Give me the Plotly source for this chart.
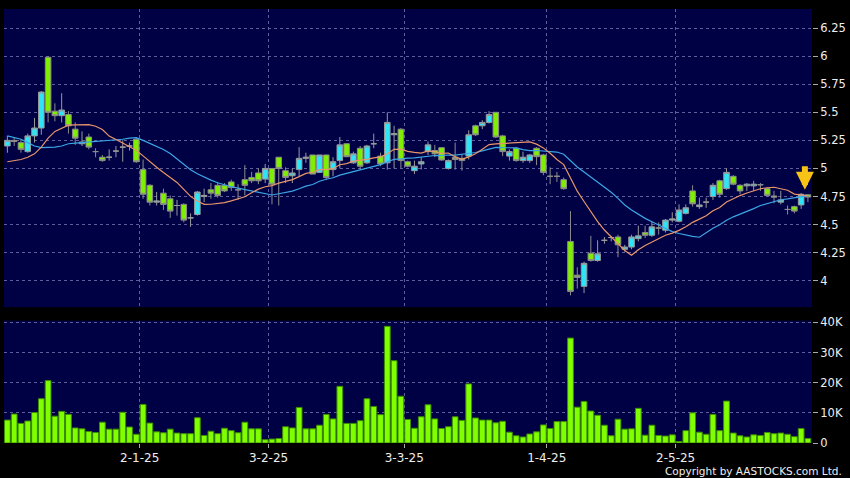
import pandas as pd
import plotly.graph_objects as go

# ---------------- data ----------------
hk_holidays = ["2024-12-25", "2024-12-26", "2025-01-01", "2025-01-29", "2025-01-30",
               "2025-01-31", "2025-04-04", "2025-04-18", "2025-04-21", "2025-05-01", "2025-05-05"]
dates = pd.bdate_range("2024-12-02", "2025-05-30", freq="C", holidays=hk_holidays)

opens = [
    5.20, 5.25, 5.23, 5.15, 5.29, 5.36, 5.99, 5.51, 5.47, 5.48,
    5.35, 5.22, 5.28, 5.15, 5.10, 5.10, 5.155, 5.19, 5.20, 5.26,
    4.99, 4.85, 4.70, 4.78, 4.73, 4.67, 4.68, 4.56, 4.59, 4.75,
    4.81, 4.85, 4.85, 4.88, 4.81, 4.90, 4.92, 4.96, 4.905, 5.00,
    5.10, 4.98, 4.935, 4.99, 5.09, 5.12, 4.965, 5.12, 4.99, 5.07,
    5.22, 5.05, 5.18, 5.05, 5.22, 5.11, 5.05, 5.30, 5.35, 5.06,
    4.98, 5.04, 5.15, 5.16, 5.185, 5.00, 5.10, 5.09, 5.11, 5.38,
    5.38, 5.41, 5.50, 5.29, 5.11, 5.18, 5.07, 5.07, 5.18, 5.12,
    4.93, 4.93, 4.90, 4.35, 4.05, 3.95, 4.245, 4.18, 4.36, 4.385,
    4.39, 4.28, 4.30, 4.375, 4.43, 4.405, 4.47, 4.45, 4.54, 4.53,
    4.60, 4.80, 4.66, 4.70, 4.75, 4.89, 4.82, 4.93, 4.85, 4.845,
    4.845, 4.855, 4.82, 4.755, 4.70, 4.635, 4.66, 4.675, 4.765]

highs = [
    5.29, 5.28, 5.26, 5.31, 5.45, 5.69, 6.00, 5.58, 5.67, 5.51,
    5.41, 5.33, 5.31, 5.18, 5.12, 5.17, 5.20, 5.25, 5.23, 5.27,
    5.08, 4.86, 4.79, 4.82, 4.76, 4.72, 4.69, 4.60, 4.80, 4.82,
    4.87, 4.88, 4.87, 4.90, 4.86, 5.03, 4.97, 5.00, 5.04, 5.00,
    5.10, 5.01, 5.00, 5.19, 5.14, 5.12, 5.12, 5.12, 5.10, 5.28,
    5.22, 5.15, 5.20, 5.21, 5.31, 5.14, 5.50, 5.38, 5.36, 5.07,
    5.07, 5.10, 5.24, 5.21, 5.19, 5.08, 5.23, 5.12, 5.34, 5.39,
    5.43, 5.51, 5.50, 5.30, 5.17, 5.19, 5.15, 5.13, 5.19, 5.13,
    5.01, 4.97, 4.92, 4.62, 4.12, 4.17, 4.40, 4.36, 4.39, 4.40,
    4.41, 4.32, 4.41, 4.49, 4.49, 4.53, 4.52, 4.55, 4.61, 4.68,
    4.68, 4.85, 4.74, 4.74, 4.87, 4.90, 5.00, 4.94, 4.86, 4.87,
    4.89, 4.87, 4.83, 4.80, 4.80, 4.67, 4.67, 4.78, 4.77]

lows = [
    5.14, 5.20, 5.14, 5.14, 5.23, 5.30, 5.41, 5.42, 5.41, 5.31,
    5.21, 5.20, 5.17, 5.10, 5.06, 5.07, 5.10, 5.06, 5.16, 5.05,
    4.73, 4.67, 4.67, 4.63, 4.56, 4.58, 4.52, 4.48, 4.58, 4.70,
    4.73, 4.74, 4.79, 4.80, 4.72, 4.76, 4.87, 4.86, 4.87, 4.68,
    4.67, 4.87, 4.87, 4.93, 5.05, 4.95, 4.96, 4.90, 4.93, 5.00,
    5.10, 5.04, 4.99, 5.04, 5.18, 5.02, 4.99, 5.00, 5.00, 5.01,
    4.95, 4.99, 5.12, 5.10, 5.07, 4.99, 4.99, 4.98, 5.08, 5.29,
    5.35, 5.40, 5.27, 5.11, 5.07, 5.06, 5.05, 5.05, 5.03, 4.94,
    4.86, 4.88, 4.81, 3.87, 3.93, 3.89, 4.17, 4.17, 4.33, 4.35,
    4.21, 4.26, 4.28, 4.35, 4.38, 4.39, 4.41, 4.43, 4.52, 4.52,
    4.59, 4.66, 4.64, 4.65, 4.72, 4.74, 4.81, 4.85, 4.77, 4.80,
    4.80, 4.80, 4.75, 4.69, 4.68, 4.59, 4.60, 4.64, 4.70]

closes = [
    5.25, 5.24, 5.17, 5.29, 5.36, 5.68, 5.50, 5.47, 5.52, 5.38,
    5.27, 5.235, 5.19, 5.15, 5.07, 5.10, 5.155, 5.19, 5.20, 5.06,
    4.77, 4.70, 4.71, 4.68, 4.62, 4.67, 4.54, 4.56, 4.79, 4.76,
    4.78, 4.76, 4.80, 4.83, 4.81, 4.85, 4.89, 4.89, 5.00, 4.86,
    5.00, 4.92, 4.96, 5.09, 5.10, 4.95, 5.12, 4.92, 5.06, 5.21,
    5.105, 5.13, 5.02, 5.20, 5.22, 5.04, 5.41, 5.31, 5.07, 5.02,
    5.02, 5.06, 5.21, 5.13, 5.075, 5.07, 5.08, 5.07, 5.30, 5.30,
    5.41, 5.48, 5.28, 5.15, 5.15, 5.07, 5.10, 5.12, 5.105, 4.965,
    4.93, 4.93, 4.82, 3.905, 4.03, 4.155, 4.18, 4.24, 4.36, 4.385,
    4.32, 4.30, 4.39, 4.40, 4.405, 4.48, 4.47, 4.54, 4.55, 4.63,
    4.65, 4.685, 4.675, 4.70, 4.85, 4.77, 4.965, 4.86, 4.80, 4.86,
    4.86, 4.855, 4.76, 4.745, 4.72, 4.635, 4.62, 4.77, 4.745]

volumes_k = [
    7.6, 9.6, 6.5, 7.3, 10.1, 14.7, 20.7, 8.9, 10.5, 9.5,
    5.0, 4.7, 3.8, 3.5, 6.9, 4.6, 4.6, 10.2, 5.3, 2.9,
    12.8, 6.6, 3.7, 3.4, 4.6, 3.3, 3.1, 3.1, 8.4, 2.5,
    3.9, 3.1, 4.9, 4.1, 3.4, 6.9, 4.7, 4.7, 1.1, 1.3,
    1.5, 5.4, 5.0, 11.8, 4.7, 4.7, 5.9, 9.5, 8.0, 18.8,
    6.5, 6.5, 7.4, 14.7, 12.1, 9.4, 38.7, 27.3, 15.5, 7.8,
    4.9, 8.7, 12.7, 8.0, 4.8, 5.4, 8.7, 7.5, 19.6, 8.3,
    7.6, 7.6, 6.7, 7.2, 3.6, 2.4, 2.0, 3.0, 3.7, 6.0,
    4.8, 7.1, 7.1, 34.8, 11.9, 13.8, 10.6, 9.2, 5.9, 2.4,
    7.9, 4.6, 4.7, 11.5, 2.6, 5.9, 2.5, 2.3, 2.7, 0.5,
    4.1, 10.0, 3.6, 2.9, 9.5, 4.1, 13.9, 3.3, 2.4, 2.0,
    2.7, 2.5, 3.5, 3.1, 3.3, 2.9, 2.1, 4.8, 1.5]

# moving-average values at the start of the window (read from the chart,
# they depend on closes before the first visible bar)
ma10_lead = [5.06, 5.07, 5.08, 5.10, 5.13, 5.19, 5.27, 5.33, 5.36]
ma20_lead = [5.29, 5.275, 5.26, 5.23, 5.20, 5.185, 5.185, 5.19, 5.20, 5.22,
             5.225, 5.23, 5.235, 5.24, 5.24, 5.245, 5.25, 5.26, 5.27]

tick_labels = ["2-1-25", "3-2-25", "3-3-25", "1-4-25", "2-5-25"]
vol_tick_vals = [0, 10, 20, 30, 40]
vol_tick_text = ["0", "10K", "20K", "30K", "40K"]

# ---------------- derived ----------------
idx = list(range(len(dates)))
ma10 = pd.Series(closes).rolling(10).mean()
ma10.iloc[:len(ma10_lead)] = ma10_lead
ma20 = pd.Series(closes).rolling(20).mean()
ma20.iloc[:len(ma20_lead)] = ma20_lead

month_starts = [k for k in range(1, len(dates)) if dates[k].month != dates[k - 1].month]
bounds = [k - 0.5 for k in month_starts]

# ---------------- styles ----------------
BG = "#000000"
PLOT_BG = "#000044"
GRID = "#5e5e9c"
DASH = "3px,3px"
FONT = "DejaVu Sans"
TXT = "#eeeeee"
xr = [-0.5, len(idx) - 0.4]

fig = go.Figure()
fig.add_trace(go.Candlestick(
    x=idx, open=opens, high=highs, low=lows, close=closes,
    increasing=dict(line=dict(color="#9a9a9a", width=1), fillcolor="#2ee4f6"),
    decreasing=dict(line=dict(color="#8c8c8c", width=1), fillcolor="#80ee00"),
    whiskerwidth=0, xaxis="x", yaxis="y", showlegend=False, hoverinfo="skip"))
fig.add_trace(go.Scatter(x=idx, y=ma20, mode="lines", line=dict(color="#3aa6e6", width=1.2),
                         xaxis="x", yaxis="y", showlegend=False, hoverinfo="skip"))
fig.add_trace(go.Scatter(x=idx, y=ma10, mode="lines", line=dict(color="#e8956a", width=1.2),
                         xaxis="x", yaxis="y", showlegend=False, hoverinfo="skip"))
fig.add_trace(go.Bar(x=idx, y=volumes_k, marker=dict(color="#80ff00", line=dict(color="#3c8c00", width=1)),
                     xaxis="x2", yaxis="y2", showlegend=False, hoverinfo="skip"))

common_x = dict(range=xr, tickvals=bounds, showgrid=True, gridcolor=GRID, griddash=DASH,
                gridwidth=1, zeroline=False, showline=False, fixedrange=True)
common_y = dict(side="right", showgrid=True, gridcolor=GRID, griddash=DASH, gridwidth=1,
                zeroline=False, showline=False, ticks="outside", ticklen=5, tickcolor="#aaaaaa",
                tickfont=dict(family=FONT, size=11.5, color=TXT), fixedrange=True)

fig.update_layout(
    width=850, height=478,
    paper_bgcolor=BG, plot_bgcolor=PLOT_BG,
    margin=dict(l=4, r=36, t=5, b=35),
    bargap=0.15, boxgap=0.18, boxgroupgap=0,
    showlegend=False,
    xaxis=dict(domain=[0, 1], anchor="y", showticklabels=False, ticks="",
               rangeslider=dict(visible=False), **common_x),
    xaxis2=dict(domain=[0, 1], anchor="y2", ticktext=tick_labels, ticks="outside", ticklen=4,
                tickcolor="#aaaaaa", tickfont=dict(family=FONT, size=12, color=TXT), **common_x),
    yaxis=dict(domain=[0.3128, 1], anchor="x", range=[3.764, 6.42], tick0=4, dtick=0.25, **common_y),
    yaxis2=dict(domain=[0, 0.282], anchor="x2", range=[0, 40.6], tickvals=vol_tick_vals,
                ticktext=vol_tick_text, **common_y),
    annotations=[
        dict(x=idx[-1] - 0.45, y=max(highs[-2:]) + 0.03, xref="x", yref="y", text="",
             showarrow=True, ax=0, ay=-25, arrowhead=2, arrowsize=0.6, arrowwidth=6,
             arrowcolor="#f7c416"),
        dict(x=1.04, y=-0.064, xref="paper", yref="paper", xanchor="right", yanchor="middle",
             text="Copyright by AASTOCKS.com Ltd.", showarrow=False,
             font=dict(family=FONT, size=10.5, color=TXT)),
    ],
)

fig.write_html("out.html", config={"displayModeBar": False},
               post_script="document.body.style.margin='0px';document.body.style.padding='0px';"
                           "document.body.style.overflow='hidden';")
